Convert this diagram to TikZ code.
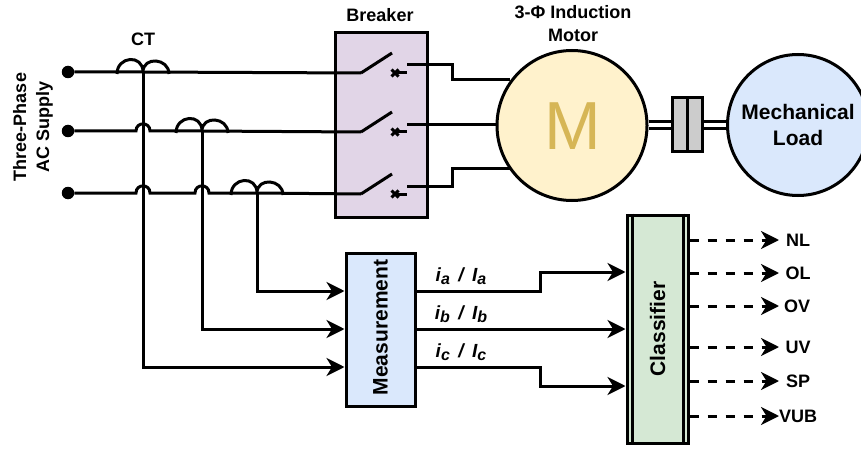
\documentclass[tikz,border=0pt]{standalone}
\usepackage{fontspec}
\setmainfont{Liberation Sans}
\usetikzlibrary{arrows.meta}
\definecolor{brkfill}{RGB}{225,213,231}
\definecolor{motfill}{RGB}{255,242,204}
\definecolor{motlab}{RGB}{214,182,86}
\definecolor{bluefill}{RGB}{218,232,252}
\definecolor{clffill}{RGB}{213,232,212}
\begin{document}
\begin{tikzpicture}[
    x=1pt, y=-1pt,
    font=\bfseries\fontsize{18}{23}\selectfont,
    wire/.style={line width=3pt},
    sig/.style={wire, -{Stealth[length=18pt,width=18pt,inset=5.5pt]}},
    dsig/.style={sig, dash pattern=on 9pt off 9pt},
    lab/.style={align=center, inner sep=0pt},
    vlab/.style={lab, rotate=90},
    biglab/.style={vlab, font=\bfseries\fontsize{21}{25}\selectfont},
    blockbox/.style={draw, line width=3pt, inner sep=0pt},
    dotpt/.style={circle, fill=black, minimum size=12.5pt, inner sep=0pt}
  ]
  \useasboundingbox (0,0) rectangle (861,449);
  % boxes
  \node[blockbox, fill=brkfill, minimum width=91.5pt, minimum height=184pt] (breaker) at (381.5,125) {};
  \node[blockbox, circle, fill=motfill, minimum size=150pt] (motor) at (572,125.5) {};
  \node[font=\fontsize{68}{68}\selectfont, text=motlab] (mlab) at (572.5,126) {M};
  \node[blockbox, circle, fill=bluefill, minimum size=141pt, align=center, font=\bfseries\fontsize{21}{26}\selectfont] (load) at (798,125) {Mechanical\\Load};
  \node[blockbox, fill=bluefill, minimum width=69pt, minimum height=153pt] (meas) at (380.5,329.5) {};
  \node[biglab] (measlab) at (380.5,327.5) {Measurement};
  \node[blockbox, fill=clffill, minimum width=61pt, minimum height=228pt] (clf) at (657.5,329) {};
  \node[biglab] (clflab) at (657.5,329) {Classifier};
  \draw[wire] (clf.north west) ++(7,0) coordinate (cla) -- (clf.south west -| cla);
  \draw[wire] (clf.north east) ++(-6,0) coordinate (clb) -- (clf.south east -| clb);
  % coupling
  \node[blockbox, fill=black!20, minimum width=15pt, minimum height=54pt] (cpa) at (679.5,125) {};
  \node[blockbox, fill=black!20, minimum width=15pt, minimum height=54pt] (cpb) at (694.5,125) {};
  \foreach \y in {121.7,128.3} {
    \draw[wire] (motor.east |- 0,\y) -- (cpa.west |- 0,\y);
    \draw[wire] (cpb.east |- 0,\y) -- (load.west |- 0,\y);
  }
  % labels
  \node[lab] (ctlab) at (143,39) {CT};
  \node[lab] (brlab) at (380,15) {Breaker};
  \node[lab] (mtlab) at (573,24) {3-Φ Induction\\Motor};
  \node[vlab] (ac) at (33,127) {Three-Phase\\AC Supply};
  % phases, switches
  \foreach \n/\y/\o in {a/72/65,b/131/125,c/193/186} {
    \node[dotpt] (dot\n) at (68,\y) {};
    \coordinate (sw\n) at (361,\y+1);
    \coordinate (xc\n) at (395,\y+1);
    \coordinate (st\n) at (407,\y+1);
    \coordinate (ou\n) at (407,\o);
    \draw[wire] (sw\n) -- ++(31,-20);
    \draw[wire] (xc\n) ++(-3.5,-3.5) -- ++(7,7) ++(0,-7) -- ++(-7,7);
    \draw[wire] (xc\n) -- (st\n);
  }
  % lines with hops
  \coordinate (cta) at (143,72);
  \coordinate (ctb) at (202,131);
  \coordinate (ctc) at (257,193);
  \draw[wire] (dota) -- (cta) -- (swa);
  \draw[wire] (dotb) -- (136,131) .. controls (136,121.5) and (150,121.5) .. (150,131) -- (ctb) -- (swb);
  \draw[wire] (dotc) -- (136,193) .. controls (136,183.5) and (150,183.5) .. (150,193)
    -- (195,193) .. controls (195,183.5) and (209,183.5) .. (209,193) -- (ctc) -- (swc);
  % coils
  \foreach \c in {cta,ctb,ctc} {
    \draw[wire] (\c) ++(-26,2) .. controls +(0,-18) and +(0,-18) .. ++(26,-2)
      .. controls +(0,-16) and +(0,-16) .. ++(26,2);
  }
  % to motor
  \draw[wire] (oua) -- (452,65) -- (452,80) -- (510,80);
  \draw[wire] (oub) -- (motor.west |- oub);
  \draw[wire] (ouc) -- (452,186) -- (452,169) -- (510,169);
  % ct to measurement
  \draw[sig] (ctc) -- (257,291) -- (meas.west |- 0,291);
  \draw[sig] (ctb) -- (202,329) -- (meas.west |- 0,329);
  \draw[sig] (cta) -- (143,367) -- (meas.west |- 0,367);
  % measurement to classifier
  \draw[sig] (meas.east |- 0,291) -- (540,291) -- (540,272) -- (clf.west |- 0,272);
  \draw[sig] (meas.east |- 0,329) -- (clf.west |- 0,329);
  \draw[sig] (meas.east |- 0,367) -- (540,367) -- (540,386) -- (clf.west |- 0,386);
  \foreach \n/\y in {a/276,b/314,c/352} {
    \node[lab, font=\bfseries\itshape\fontsize{19}{22}\selectfont] (cur\n) at (461,\y) {i\raisebox{-3.5pt}{\fontsize{16}{16}\selectfont\n}\ \,/\ \,I\raisebox{-3.5pt}{\fontsize{16}{16}\selectfont\n}};
  }
  % outputs
  \foreach \t/\y/\lx in {NL/240/798,OL/273/798,OV/306/797,UV/347/798,SP/381/798,VUB/416/798} {
    \node[lab] (o\t) at (\lx,\y) {\t};
    \coordinate (e\t) at (779,\y);
    \draw[dsig] (clf.east |- 0,\y) -- (e\t);
  }
\end{tikzpicture}
\end{document}
